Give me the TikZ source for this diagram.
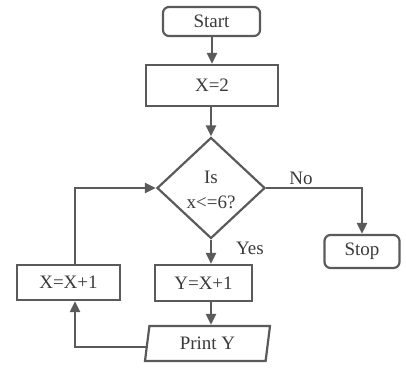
\documentclass[tikz,border=0pt]{standalone}
\usepackage{fontspec}
\setmainfont{Liberation Serif}
\usetikzlibrary{shapes.geometric,arrows.meta}
\definecolor{ln}{HTML}{5A5A5A}
\definecolor{tx}{HTML}{3A3A3A}
\begin{document}
\begin{tikzpicture}[x=1pt,y=-1pt,
  base/.style={draw=ln,line width=2.2pt,text=tx,font=\fontsize{19}{24}\selectfont,inner sep=0pt},
  term/.style={base,rounded corners=6pt},
  proc/.style={base},
  deci/.style={base,diamond,align=center},
  io/.style={base,trapezium,trapezium left angle=71,trapezium right angle=109,trapezium stretches body},
  conn/.style={draw=ln,line width=2.2pt,-{Triangle[length=11pt,width=10pt]}},
  lbl/.style={text=tx,font=\fontsize{19}{24}\selectfont,inner sep=0pt}]
\useasboundingbox (0,0) rectangle (406,371);
\node[term,minimum width=97,minimum height=29] (start) at (211.5,21.5) {Start};
\node[proc,minimum width=132,minimum height=41] (x2) at (212,85.5) {X=2};
\node[deci,minimum width=108,minimum height=101] (d) at (211,188) {};
\node[lbl,align=center] (dt) at (211,190) {Is\\[1pt]x<=6?};
\node[term,minimum width=75,minimum height=33] (stop) at (362,251.5) {Stop};
\node[proc,minimum width=97,minimum height=36] (yx) at (203.5,283) {Y=X+1};
\node[proc,minimum width=103,minimum height=35] (xx) at (68.5,282.5) {X=X+1};
\node[io,minimum width=125,minimum height=35] (pY) at (207.5,343.5) {Print Y};
\coordinate (lp) at (75,347);
\coordinate (nc) at (362,188);
\node[lbl] (no) at (301,178) {No};
\node[lbl] (yes) at (250,248) {Yes};
\draw[conn] (start.south -| x2.north) -- (x2.north);
\draw[conn] (x2.south -| d.north) -- (d.north);
\draw[conn] (d.east) -- (nc) -- (stop.north);
\draw[conn] (d.south) -- (d.south |- yx.north);
\draw[conn] (d.south |- yx.south) -- (d.south |- pY.north);
\draw[conn] (pY.west |- lp) -- (lp) -- (lp |- xx.south);
\draw[conn] (lp |- xx.north) -- (lp |- d.west) -- (d.west);
\end{tikzpicture}
\end{document}
